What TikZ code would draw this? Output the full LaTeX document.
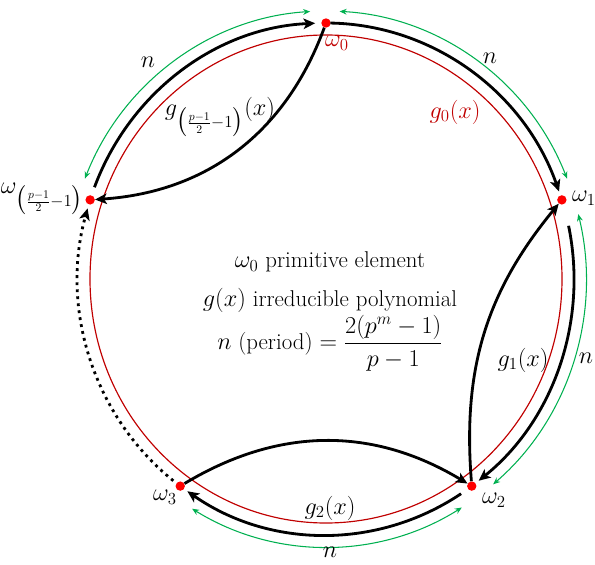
\documentclass[tikz,border=0pt]{standalone}
\usepackage{amsmath}
\usetikzlibrary{arrows.meta}
\definecolor{ringred}{RGB}{192,0,0}
\definecolor{spangreen}{RGB}{0,176,80}

\begin{document}
\begin{tikzpicture}[x=0.03cm,y=0.03cm,
  lbl/.style={font=\fontsize{19.5}{23}\selectfont,inner sep=1pt},
  dot/.style={circle,fill=red,inner sep=0pt,minimum size=8pt},
  walk/.style={line width=2.4pt,-{Stealth[length=10pt,width=9pt,inset=2.5pt]}},
  spanarc/.style={spangreen,line width=0.9pt,{Stealth[length=6pt,width=5pt]}-{Stealth[length=6pt,width=5pt]}}]
\useasboundingbox (-326,-285) rectangle (269,279);
% ring of g_0(x)
\draw[ringred,line width=1pt] (0,0) ellipse [x radius=236,y radius=244];
% points of the cycle
\coordinate (c) at (0,0);
\node[dot] (w0) at (90:248 and 256) {};
\node[dot] (w1) at (18:248 and 256) {};
\node[dot] (w2) at (-54:248 and 256) {};
\node[dot] (w3) at (-126:248 and 256) {};
\node[dot] (wp) at (162:248 and 256) {};
% steps round the cycle
\draw[walk] (89:248 and 256) arc[start angle=89,end angle=20,x radius=248,y radius=256];
\draw[walk] (12:248 and 256) arc[start angle=12,end angle=-52,x radius=248,y radius=256];
\draw[walk] (-57:248 and 256) arc[start angle=-57,end angle=-124,x radius=248,y radius=256];
\draw[walk,dash pattern=on 2.4pt off 3.6pt] (-128:248 and 256) arc[start angle=-128,end angle=-196,x radius=248,y radius=256];
\draw[walk] (159:248 and 256) arc[start angle=159,end angle=92.5,x radius=248,y radius=256];
% periods
\draw[spanarc] (87:260 and 268) arc[start angle=87,end angle=22,x radius=260,y radius=268];
\draw[spanarc] (14:260 and 268) arc[start angle=14,end angle=-50,x radius=260,y radius=268];
\draw[spanarc] (-58.5:260 and 268) arc[start angle=-58.5,end angle=-121,x radius=260,y radius=268];
\draw[spanarc] (158:260 and 268) arc[start angle=158,end angle=93.5,x radius=260,y radius=268];
% chords
\draw[walk] (w0) to[bend left=33] (wp);
\draw[walk] (w2) to[bend left=22] (w1);
\draw[walk] (w3) to[bend left=31] (w2);
% labels
\node[lbl,text=ringred] (l0) at (11,236) {$\omega_0$};
\node[lbl] (l1) at (258,81) {$\omega_1$};
\node[lbl] (l2) at (168,-221) {$\omega_2$};
\node[lbl] (l3) at (-161,-218) {$\omega_3$};
\node[lbl,anchor=east] (lp) at (-241,80) {$\omega_{\bigl(\frac{p-1}{2}-1\bigr)}$};
\node[lbl] (n1) at (-178,217) {$n$};
\node[lbl] (n2) at (164,221) {$n$};
\node[lbl] (n3) at (260,-79) {$n$};
\node[lbl] (n4) at (4,-273) {$n$};
\node[lbl,text=ringred] (g0) at (129,167) {$g_0(x)$};
\node[lbl] (gp) at (-106,162) {$g_{\bigl(\frac{p-1}{2}-1\bigr)}(x)$};
\node[lbl] (g1) at (197,-81) {$g_1(x)$};
\node[lbl] (g2) at (4,-229) {$g_2(x)$};
\node[lbl] (t1) at (4,17) {$\omega_0$ primitive element};
\node[lbl] (t2) at (4,-21) {$g(x)$ irreducible polynomial};
\node[lbl] (t3) at (4,-64) {$n$ (period) $=\dfrac{2(p^m-1)}{p-1}$};
\end{tikzpicture}
\end{document}
